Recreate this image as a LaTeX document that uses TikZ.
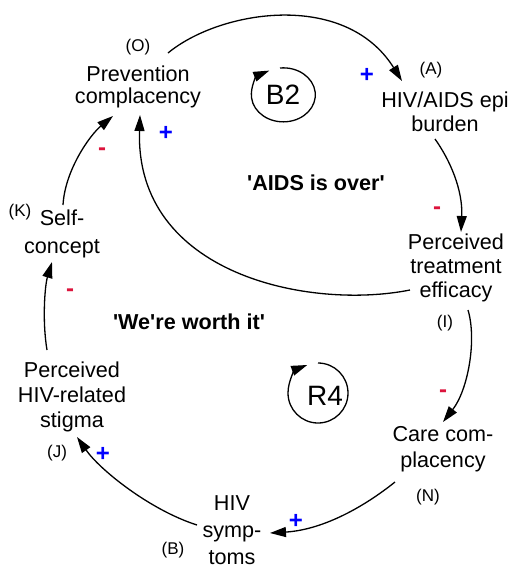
\documentclass[tikz,border=0pt]{standalone}
\usepackage{fontspec}
\setmainfont{Liberation Sans}
\usetikzlibrary{arrows.meta,calc}
\definecolor{minusred}{RGB}{220,20,60}
\tikzset{
  var/.style={align=center, inner sep=0pt, font=\fontsize{10.8}{#1}\selectfont},
  var/.default=12,
  tag/.style={inner sep=0pt, font=\fontsize{8.5}{9}\selectfont},
  possign/.style={inner sep=0pt, text=blue, font=\fontsize{12}{12}\selectfont\bfseries},
  negsign/.style={inner sep=0pt, text=minusred, font=\fontsize{12}{12}\selectfont\bfseries},
  loopname/.style={inner sep=0pt, font=\fontsize{14}{14}\selectfont},
  note/.style={inner sep=0pt, font=\fontsize{10.8}{12}\selectfont\bfseries}
}
\begin{document}
\begin{tikzpicture}[x=0.5pt, y=-0.5pt, line width=0.65pt, >={Triangle[length=8pt,width=5pt]}]
  \useasboundingbox (0,0) rectangle (511,569);

  % Variables
  \node[var=11] (prev) at (138,87) {Prevention\\complacency};
  \node[var] (epi) at (445,112) {HIV/AIDS epi\\burden};
  \node[var] (eff) at (456,268) {Perceived\\treatment\\efficacy};
  \node[var=13] (care) at (443,449) {Care com-\\placency};
  \node[var=13.5] (sym) at (232,530) {HIV\\symp-\\toms};
  \node[var=12.5] (stig) at (72,397) {Perceived\\HIV-related\\stigma};
  \node[var=14] (self) at (62,234) {Self-\\concept};

  % Letters
  \node[tag] (tagO) at (138,47) {(O)};
  \node[tag] (tagA) at (431,70) {(A)};
  \node[tag] (tagI) at (445,323) {(I)};
  \node[tag] (tagN) at (428,497) {(N)};
  \node[tag] (tagB) at (173,550) {(B)};
  \node[tag] (tagJ) at (57,453) {(J)};
  \node[tag] (tagK) at (20,212) {(K)};

  % Links
  \draw[->] ($(prev)+(30,-34)$) .. controls (220,10) and (345,-10) .. ($(epi)+(-43,-31)$);
  \draw[->] ($(epi)+(-10,27)$) .. controls (450,160) and (463,190) .. ($(eff)+(5,-36)$);
  \draw[->] ($(eff)+(-46,22)$) .. controls (310,310) and (135,275) .. ($(prev)+(2,28)$);
  \draw[->] ($(eff)+(12,42)$) .. controls (477,340) and (468,390) .. ($(care)+(0,-27)$);
  \draw[->] ($(care)+(-48,33)$) .. controls (360,510) and (320,530) .. ($(sym)+(38,3)$);
  \draw[->] ($(sym)+(-35,-5)$) .. controls (150,510) and (100,470) .. ($(stig)+(5,40)$);
  \draw[->] ($(stig)+(-25,-47)$) .. controls (42,320) and (45,285) .. ($(self)+(-10,28)$);
  \draw[->] ($(self)+(1,-29)$) .. controls (65,170) and (90,135) .. ($(prev)+(-25,29)$);

  % Polarities
  \node[possign] (p1) at (367,75) {+};
  \node[possign] (p2) at (166,133) {+};
  \node[negsign] (m1) at (102,152) {-};
  \node[negsign] (m2) at (437,211) {-};
  \node[negsign] (m3) at (70,293) {-};
  \node[negsign] (m4) at (443,394) {-};
  \node[possign] (p3) at (296,521) {+};
  \node[possign] (p4) at (103,454) {+};

  % Loops
  \node[loopname] (b2) at (283,95) {B2};
  \draw[->] ($(b2)+(-3,-27)$) arc[start angle=264, end angle=604, x radius=32, y radius=27];
  \node[loopname] (r4) at (325,396) {R4};
  \draw[->] ($(r4)+(-7,-33)$) arc[start angle=270, end angle=609, radius=30];

  \node[note] (over) at (316,183) {\textquotesingle AIDS is over\textquotesingle};
  \node[note] (worth) at (189,322) {\textquotesingle We\textquotesingle re worth it\textquotesingle};
\end{tikzpicture}
\end{document}
